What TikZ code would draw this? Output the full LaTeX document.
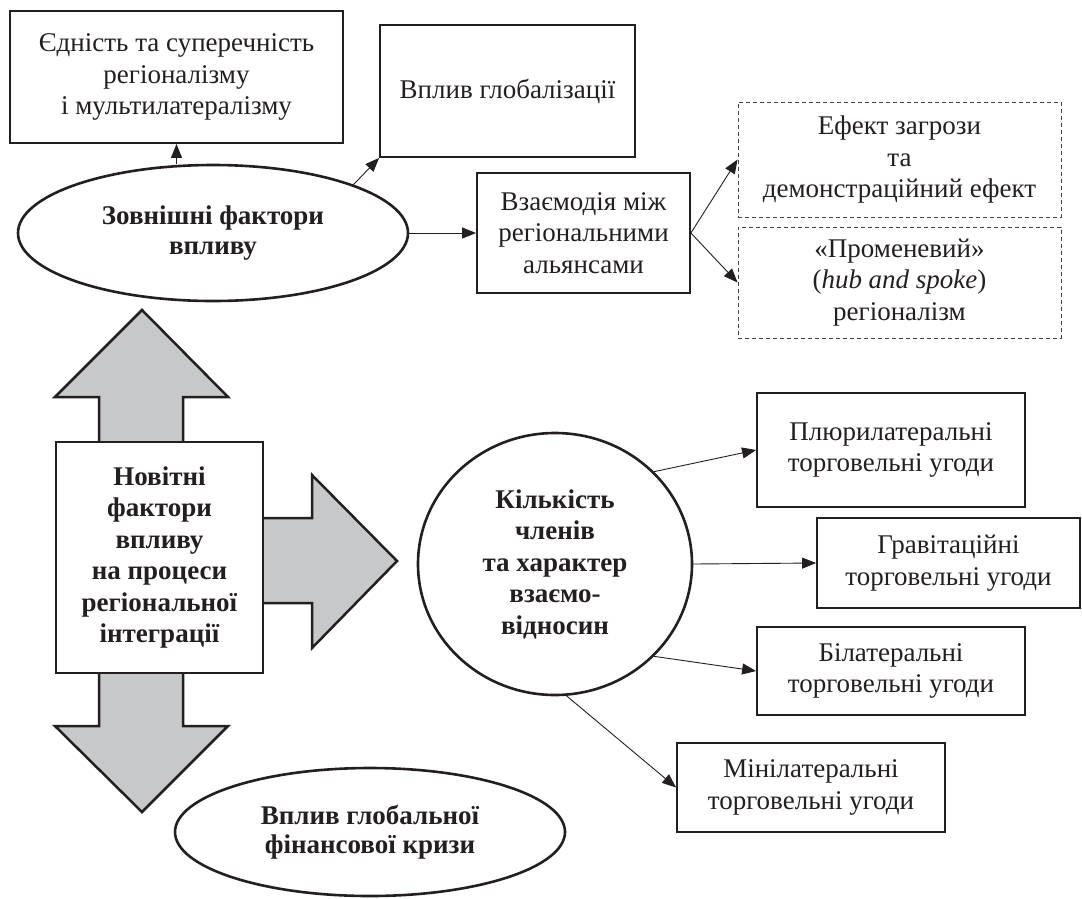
\documentclass[tikz,border=0pt]{standalone}
\usepackage{fontspec}
\setmainfont{Liberation Serif}
\usetikzlibrary{shapes.geometric,arrows.meta}
\definecolor{arrowgray}{RGB}{199,200,202}
\definecolor{ink}{RGB}{35,31,32}
\begin{document}
\begin{tikzpicture}[x=1pt,y=-1pt,
  every node/.style={font=\fontsize{27}{31.5}\selectfont, align=center, inner sep=0pt, text=ink},
  solidbox/.style={draw=ink, line width=1.8pt, fill=white, rectangle},
  dashbox/.style={draw=ink!85, line width=0.9pt, dash pattern=on 4pt off 3pt, rectangle},
  oval/.style={draw=ink, ellipse, line width=2.6pt, fill=white, font=\fontsize{27}{29.5}\selectfont\bfseries},
  conn/.style={draw=ink, line width=0.9pt, -{Triangle[length=14pt,width=11pt]}},
  bigarrow/.style={draw=ink, fill=arrowgray, line width=2.5pt, line join=miter}
]
\useasboundingbox (0,0) rectangle (1082,898);

% top part
\node[solidbox, minimum width=333pt, minimum height=132pt] (unity) at (176.5,77)
  {Єдність та суперечність\\регіоналізму\\і мультилатералізму};
\node[solidbox, minimum width=255pt, minimum height=132pt] (glob) at (507.5,91)
  {Вплив глобалізації};
\node[oval, minimum width=390pt, minimum height=136pt] (ext) at (213,233)
  {Зовнішні фактори\\впливу};
\node[solidbox, minimum width=213pt, minimum height=120pt] (inter) at (583.5,233)
  {Взаємодія між\\регіональними\\альянсами};
\node[dashbox, minimum width=323pt, minimum height=115pt] (threat) at (899.5,159.5)
  {Ефект загрози\\та\\демонстраційний ефект};
\node[dashbox, minimum width=323pt, minimum height=111pt] (hub) at (899.5,282.5)
  {«Променевий»\\(\textit{hub and spoke})\\регіоналізм};

\draw[conn] (unity.south |- ext.north) -- (unity.south);
\draw[conn] (ext.19) -- (glob.south west);
\draw[conn] (ext.east) -- (inter.west);
\draw[conn] (inter.east) -- (threat.west);
\draw[conn] (inter.east) -- (hub.west);

% big arrows
\draw[bigarrow] (99,450) -- (99,397) -- (55,397) -- (142,310) -- (228,397) -- (183,397) -- (183,450) -- cycle;
\draw[bigarrow] (255,518) -- (312,518) -- (312,475) -- (397,561) -- (312,648) -- (312,603) -- (255,603) -- cycle;
\draw[bigarrow] (99,665) -- (99,726) -- (55,726) -- (142,812) -- (228,726) -- (183,726) -- (183,665) -- cycle;

\node[solidbox, line width=2.2pt, minimum width=207pt, minimum height=231pt,
      font=\fontsize{27}{31.5}\selectfont\bfseries] (newest) at (159.5,557.5)
  {Новітні\\фактори\\впливу\\на процеси\\регіональної\\інтеграції};

\node[oval, minimum width=390pt, minimum height=128pt] (crisis) at (370,832)
  {Вплив глобальної\\фінансової кризи};

% members circle
\node[oval, minimum width=274pt, minimum height=262pt, font=\fontsize{27}{31.5}\selectfont\bfseries] (members) at (555,564)
  {Кількість\\членів\\та характер\\взаємо-\\відносин};

\node[solidbox, minimum width=268pt, minimum height=114pt] (pluri) at (891,450)
  {Плюрилатеральні\\торговельні угоди};
\node[solidbox, minimum width=263pt, minimum height=90pt] (grav) at (948.5,563)
  {Гравітаційні\\торговельні угоди};
\node[solidbox, minimum width=268pt, minimum height=88pt] (bil) at (891,671)
  {Білатеральні\\торговельні угоди};
\node[solidbox, minimum width=268pt, minimum height=89pt] (mini) at (811,787.5)
  {Мінілатеральні\\торговельні угоди};

\draw[conn] (members.43.5) -- (pluri.west);
\draw[conn] (members.east) -- (grav.west);
\draw[conn] (members.-43.5) -- (bil.west);
\draw[conn] (members.-85.7) -- (mini.west);
\end{tikzpicture}
\end{document}
